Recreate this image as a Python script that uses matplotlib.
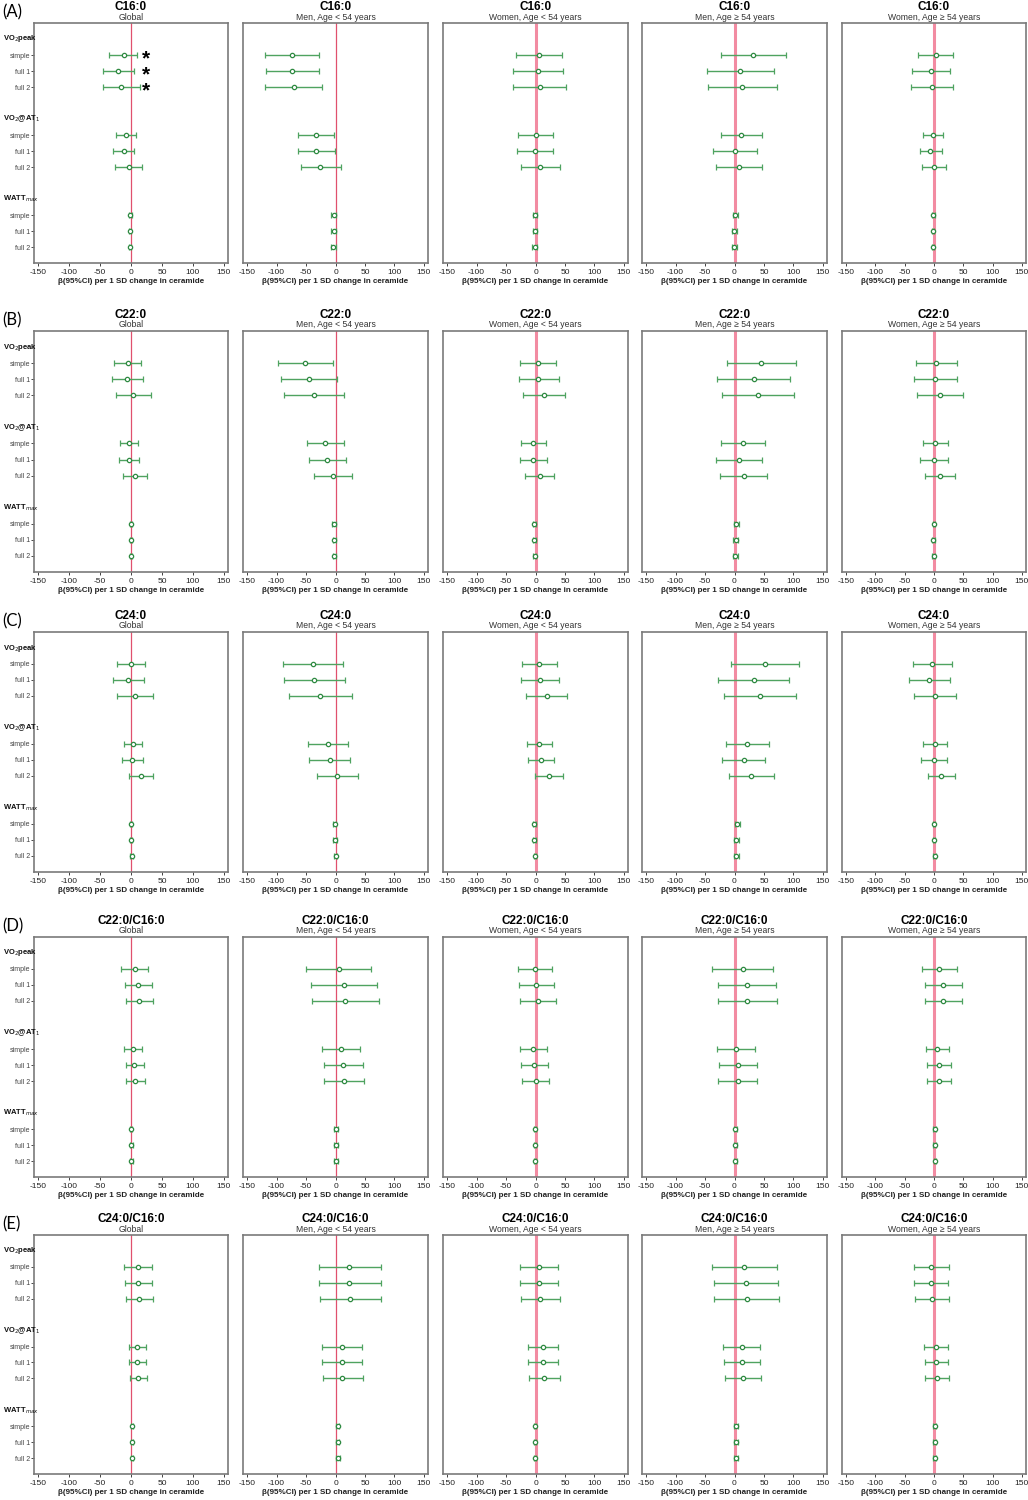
import matplotlib
matplotlib.use("Agg")
import matplotlib.pyplot as plt
import matplotlib.transforms as mtransforms
import numpy as np

plt.rcParams['font.family'] = ['Liberation Sans', 'DejaVu Sans']

# ---------------- data ----------------
row_letters = ["(A)", "(B)", "(C)", "(D)", "(E)"]
ceramides = ["C16:0", "C22:0", "C24:0", "C22:0/C16:0", "C24:0/C16:0"]
groups = ["Global", "Men, Age < 54 years", "Women, Age < 54 years",
          "Men, Age \u2265 54 years", "Women, Age \u2265 54 years"]
outcomes = [r"VO$_2$peak", r"VO$_2$@AT$_1$", r"WATT$_{max}$"]
models = ["simple", "full 1", "full 2"]

# each list: 5 panels (groups) x 9 rows (3 outcomes x 3 models)
C16_est = [[-12, -21, -16, -8, -12, -4, -1, -1.5, -2],
           [-73.6, -73.6, -71, -33, -33, -26, -3, -3, -3.5],
           [6, 4, 7.5, 0, -1, 8, -1, -1, -1],
           [32, 10, 12.6, 11.5, 1, 7.5, 1, -1, -1],
           [3, -5, -3, -2, -6, 0.5, -1, -1.5, -2]]
C16_lo = [[-35, -45, -46, -24, -29, -26, -3, -3, -4],
          [-119.5, -118, -119.5, -64, -63, -59, -7, -7, -8],
          [-33, -38, -38, -29, -32, -25, -4, -5, -6],
          [-23, -46.5, -45, -23, -36, -31, -3, -5, -5],
          [-27, -37, -38.5, -19.5, -24, -21, -3, -4, -4]]
C16_hi = [[10, 5, 14, 8, 5, 17, 1, 0, 0],
          [-27.6, -28, -22.4, -2, -1, 9, 1, 1, 1],
          [45, 46.5, 52, 30, 30, 42, 2, 2, 3],
          [88, 67, 72, 46.5, 39, 47, 6, 4, 5],
          [32, 28, 33, 16, 13, 21, 1, 0.5, 0]]

C22_est = [[-5, -6.5, 3.3, -3.3, -4, 6, 0, 0, 0],
           [-51.5, -45, -37, -17.4, -14.6, -5, -3, -2, -2],
           [3.5, 5, 14, -4, -3.5, 7, -2, -2, -1.5],
           [45, 33, 40, 14, 7, 15.5, 2.5, 2, 1.5],
           [4, 2, 10, 2, 0, 10, 0, -1, 0]]
C22_lo = [[-27, -31, -23.7, -17, -20, -13, -2, -2, -2],
          [-98, -92.5, -87, -48, -45, -37, -6, -5, -5],
          [-27, -28, -22, -24.5, -26.6, -17, -4, -4.5, -4],
          [-13, -29, -22, -23.5, -32, -25, -1, -2, -2],
          [-30.5, -34.5, -29, -19.5, -23.5, -15.5, -2, -3, -3]]
C22_hi = [[16.5, 19, 31.6, 12, 13, 26, 2, 2, 2],
          [-3.5, 3, 14, 14, 17.4, 28.5, 0, 1, 1],
          [34, 40, 50, 18, 20, 32, 0.5, 0.5, 1],
          [104, 94, 101, 52, 46.5, 56, 7, 6, 6],
          [38.5, 40, 50, 23.5, 24.7, 35, 2, 1, 2]]

C24_est = [[-0.7, -5, 6, 2.6, 2, 16, 0, 0, 1],
           [-38, -36, -26.4, -12.5, -9.7, 2.8, -1.4, -1, 0.5],
           [6.3, 8.4, 19.6, 6.3, 9, 23, -2, -2, -1],
           [51, 32.8, 43, 21.8, 15.5, 28.7, 4.6, 2.3, 2.3],
           [-3, -8, 1.7, 1.7, 0.6, 12.6, 0.5, 0, 1]]
C24_lo = [[-23, -29.6, -22.4, -12, -14, -2.6, -2, -2, -1],
          [-89, -87.7, -79, -46, -44.5, -31, -4, -4, -3],
          [-23, -24, -15.4, -14, -13.3, -1.4, -4, -4, -3],
          [-6.3, -27.6, -17.8, -13.8, -21.3, -8.6, 1, -1, -1],
          [-35.6, -42, -34.5, -19.5, -21.8, -11, -1.5, -2, -1]]
C24_hi = [[22.4, 21, 35, 17.8, 19, 35, 2, 2, 3],
          [13, 16.7, 28.5, 21.6, 24.4, 39, 1.5, 2, 3],
          [36.4, 40.6, 53, 28, 31.5, 47, 0, 0, 1],
          [109, 93, 104.6, 58, 52.3, 66.7, 9, 8, 8],
          [30.5, 27, 38, 22.4, 23, 36, 2.5, 2, 3]]

R2216_est = [[6, 11.8, 12.5, 2.6, 5.3, 6.6, 0, 0.5, 0.5],
             [5.6, 14, 16, 9.7, 12.5, 14, 0.7, 1, 1],
             [-1.4, 1.4, 4.2, -4.2, -2.8, 0, -1, -0.5, -0.5],
             [13.8, 21.3, 21.3, 2.9, 5.2, 5.2, 1, 1.5, 1.5],
             [9.2, 15.5, 15.5, 5.2, 8.6, 8.6, 1, 1, 1.5]]
R2216_lo = [[-15.8, -9.2, -8.6, -11, -8.6, -8, -2, -1.5, -1.5],
            [-49.4, -41.8, -40.4, -23, -20.2, -18.8, -2, -2, -2],
            [-30, -28, -26, -26, -25, -23, -3, -2.5, -2.5],
            [-37.4, -28, -28.7, -30, -27, -28, -1, -1, -1],
            [-20, -16, -16, -13.8, -12, -11.5, -1, -1, -0.5]]
R2216_hi = [[27.6, 34, 35, 17, 20.4, 22.4, 2, 2.5, 2.5],
            [61, 71, 73, 41.8, 46, 48, 3.5, 4, 4],
            [28, 31.5, 34.3, 19, 21, 22.4, 1, 1.5, 1.5],
            [65, 70.7, 71.3, 35.6, 37.4, 38.5, 5, 5, 5],
            [38.5, 47, 47, 25.3, 29.3, 28.7, 3, 3, 3.5]]

R2416_est = [[11, 11.8, 12.5, 10.5, 10.5, 11.8, 1.3, 1, 1.3],
             [23.7, 23, 25, 10.4, 10.4, 11, 3.5, 3.5, 4],
             [5.6, 6.3, 8.4, 12.6, 12.6, 14, -1, -1, -1],
             [16.7, 19, 20.7, 12, 12.6, 14.4, 2.3, 2, 2.3],
             [-4.6, -5.2, -3.4, 4, 4, 5.2, 1, 1, 1]]
R2416_lo = [[-11, -10, -8.6, -3.3, -3.3, -2, -0.5, -0.5, -0.5],
            [-28.5, -28.5, -27, -23, -23.7, -21.6, 0.5, 0.5, 1],
            [-26, -26, -24, -12, -12, -10.5, -3, -3, -3],
            [-38, -35, -34.5, -19, -18.4, -16, -1, -1.5, -1],
            [-34, -34, -32.8, -16.7, -16, -15, -1, -1, -1]]
R2416_hi = [[33.6, 34, 35.5, 25, 25, 26.3, 3, 2.5, 3],
            [76.5, 76.5, 78, 44.5, 44.5, 46, 6, 6, 7],
            [37.8, 39, 41, 37.8, 39, 41, 1, 1, 1],
            [71.8, 74, 75.8, 43, 43, 44.8, 6, 6, 6],
            [25.3, 24, 25.3, 24.7, 24, 25.3, 3, 3, 3]]

# significance markers (row A, Global panel, VO2peak rows)
sig_rows = [0, 1, 2]
sig_x = [24, 24, 24]

all_est = [C16_est, C22_est, C24_est, R2216_est, R2416_est]
all_lo = [C16_lo, C22_lo, C24_lo, R2216_lo, R2416_lo]
all_hi = [C16_hi, C22_hi, C24_hi, R2216_hi, R2416_hi]

xticks = [-150, -100, -50, 0, 50, 100, 150]

# ---------------- layout ----------------
W, H = 1028, 1500
fig = plt.figure(figsize=(W / 100, H / 100), dpi=100)

col_px = [(34, 228), (243, 428), (443, 628), (642, 827), (842, 1026)]
row_px = [(23, 263), (331, 572), (632, 872), (937, 1177), (1235, 1474)]

item_y = [1, 2, 3, 6, 7, 8, 11, 12, 13]
header_y = [0, 5, 10]

green = "#4fa360"
green_dark = "#2f8a42"

for r in range(5):
    top, bot = row_px[r]
    fig.text(2 / W, 1 - (top - 11) / H, row_letters[r], fontsize=12,
             family=['Lato', 'DejaVu Sans'], ha='left', va='center')
    for c in range(5):
        l, rr = col_px[c]
        ax = fig.add_axes([l / W, 1 - bot / H, (rr - l) / W, (bot - top) / H])
        est = np.array(all_est[r][c])
        lo = np.array(all_lo[r][c])
        hi = np.array(all_hi[r][c])
        if c < 2:
            ax.axvline(0, color="#e0506e", lw=0.9, zorder=1)
        else:
            ax.axvline(0, color="#f28ba2", lw=2.2, zorder=1)
        ax.errorbar(est, item_y, xerr=[est - lo, hi - est], fmt='o',
                    color=green, ecolor=green, elinewidth=1.0, capsize=2.0,
                    capthick=1.0, markersize=3.1, markerfacecolor='white',
                    markeredgecolor=green_dark, markeredgewidth=0.9, zorder=3)
        ax.set_xlim(-157, 157)
        ax.set_ylim(14, -1)
        ax.set_xticks(xticks)
        ax.set_xticklabels([str(t) for t in xticks], fontsize=6)
        ax.tick_params(axis='x', length=2.5, width=0.6, pad=1.5, colors='#222222')
        for s in ax.spines.values():
            s.set_color('#7a7a7a')
            s.set_linewidth(1.2)
        ax.set_xlabel("\u03b2(95%CI) per 1 SD change in ceramide", fontsize=5.8,
                      fontweight='bold', labelpad=2, color='#222222')
        if c == 0:
            ax.set_yticks(item_y)
            ax.set_yticklabels(models * 3, fontsize=5, color='#444444')
            ax.tick_params(axis='y', length=2, width=0.5, pad=1)
            trans = mtransforms.blended_transform_factory(fig.transFigure, ax.transData)
            for hy, ht in zip(header_y, outcomes):
                ax.text(3 / W, hy, ht, transform=trans, fontsize=5.5,
                        fontweight='bold', ha='left', va='center', color='#111111')
        else:
            ax.set_yticks([])
        ax.annotate(ceramides[r], xy=(0.5, 1), xycoords='axes fraction',
                    xytext=(0, 16 * 0.72), textcoords='offset points',
                    ha='center', va='center', fontsize=8.5, fontweight='bold')
        ax.annotate(groups[c], xy=(0.5, 1), xycoords='axes fraction',
                    xytext=(0, 6 * 0.72), textcoords='offset points',
                    ha='center', va='center', fontsize=6.2, color='#333333')
        if r == 0 and c == 0:
            for sy, sx in zip(sig_rows, sig_x):
                ax.text(sx, item_y[sy] + 0.1, "*", fontsize=15, fontweight='bold',
                        ha='center', va='center_baseline', color='black')

fig.savefig("out.png", dpi=100, facecolor='white')
